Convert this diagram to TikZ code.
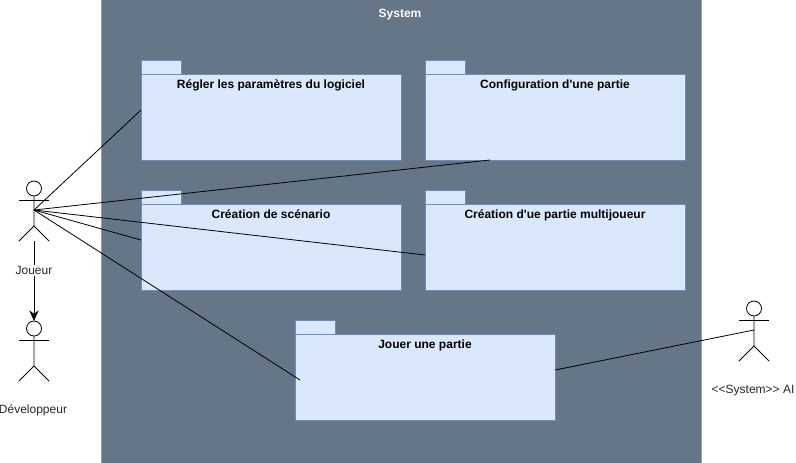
\documentclass[tikz,border=0pt]{standalone}
\usepackage{fontspec}
\setmainfont[Ligatures=NoCommon]{Liberation Sans}
\usetikzlibrary{arrows.meta}
\usetikzlibrary{calc}
\usetikzlibrary{positioning}
\definecolor{sysfill}{HTML}{647687}
\definecolor{sysline}{HTML}{93A0AC}
\definecolor{pkgfill}{HTML}{DAE8FC}
\definecolor{pkgline}{HTML}{6C8EBF}
\tikzset{pkgbody/.style = {draw=pkgline, fill=pkgfill, outer sep=0, inner sep=0,
                           minimum width=195pt, minimum height=64.5pt},
         pkgtab/.style = {draw=pkgline, fill=pkgfill, outer sep=0, inner sep=0,
                          minimum width=30pt, minimum height=10.5pt},
         pkgtitle/.style = {font=\bfseries\fontsize{9}{11}\selectfont, text=black, inner sep=0},
         actor/.style = {outer sep=0, inner sep=0, minimum width=22.5pt, minimum height=45pt},
         actorname/.style = {font=\fontsize{9}{11}\selectfont, text=black!85, inner sep=1pt}}

\begin{document}
\begin{tikzpicture}[x=0.75pt, y=-0.75pt, line width=0.6pt]
    \useasboundingbox (0, 0) rectangle (796, 462);
    \node (system) [draw=sysline, fill=sysfill, outer sep=0, minimum width=450pt, minimum height=360pt] at (401, 231) {};
    \node (systemtitle) [pkgtitle, text=white] at (400, 15) {System};

    \node (reglage) [pkgbody] at (271, 117) {};
    \node (config) [pkgbody] at (555, 117) {};
    \node (scenario) [pkgbody] at (271, 247) {};
    \node (multi) [pkgbody] at (555, 247) {};
    \node (jouer) [pkgbody] at (425, 377) {};

    \foreach \pkg/\name in {reglage/Régler les paramètres du logiciel,
                            config/Configuration d\textquotesingle une partie,
                            scenario/Création de scénario,
                            multi/Création d\textquotesingle ue partie multijoueur,
                            jouer/Jouer une partie} {
      \node (\pkg tab) [pkgtab, above right=0pt and 0pt of \pkg.north west] {};
      \node (\pkg title) [pkgtitle, below=4pt of \pkg.north] {\name};
    }

    \node (joueur) [actor] at (34, 211) {};
    \node (dev) [actor] at (34, 351) {};
    \node (ai) [actor] at (754, 331) {};
    \foreach \who in {joueur, dev, ai} {
      \draw (\who) ++(0, -22.5) circle [radius=7.5];
      \draw (\who) ++(0, -15) -- ++(0, 30) -- ++(-15, 15);
      \draw (\who) ++(0, 15) -- ++(15, 15);
      \draw (\who) ++(-15, -11) -- ++(30, 0);
    }

    \draw [-{Stealth[length=8pt, width=7pt]}] (joueur.south) -- (dev.north);
    \node (joueurname) [actorname, fill=white] at (34, 270.5) {Joueur};
    \node (devname) [actorname] at (33, 410.5) {Développeur};
    \node (ainame) [actorname] at (753, 390.5) {<{}<System>{}> AI};

    \draw ($(joueur)+(0, -1)$) -- ($(reglage.west)+(0, -7)$);
    \draw ($(joueur)+(0, -1)$) -- ($(config.south)+(-65, 0)$);
    \draw ($(joueur)+(0, -1)$) -- ($(scenario.west)+(0, -7)$);
    \draw ($(joueur)+(0, -1)$) -- ($(multi.west)+(0, 8)$);
    \draw ($(joueur)+(0, -1)$) -- ($(jouer.west)+(5, 3)$);
    \draw ($(jouer.east)+(0, -7)$) -- ($(ai)+(0, -1)$);
  \end{tikzpicture}
\end{document}
